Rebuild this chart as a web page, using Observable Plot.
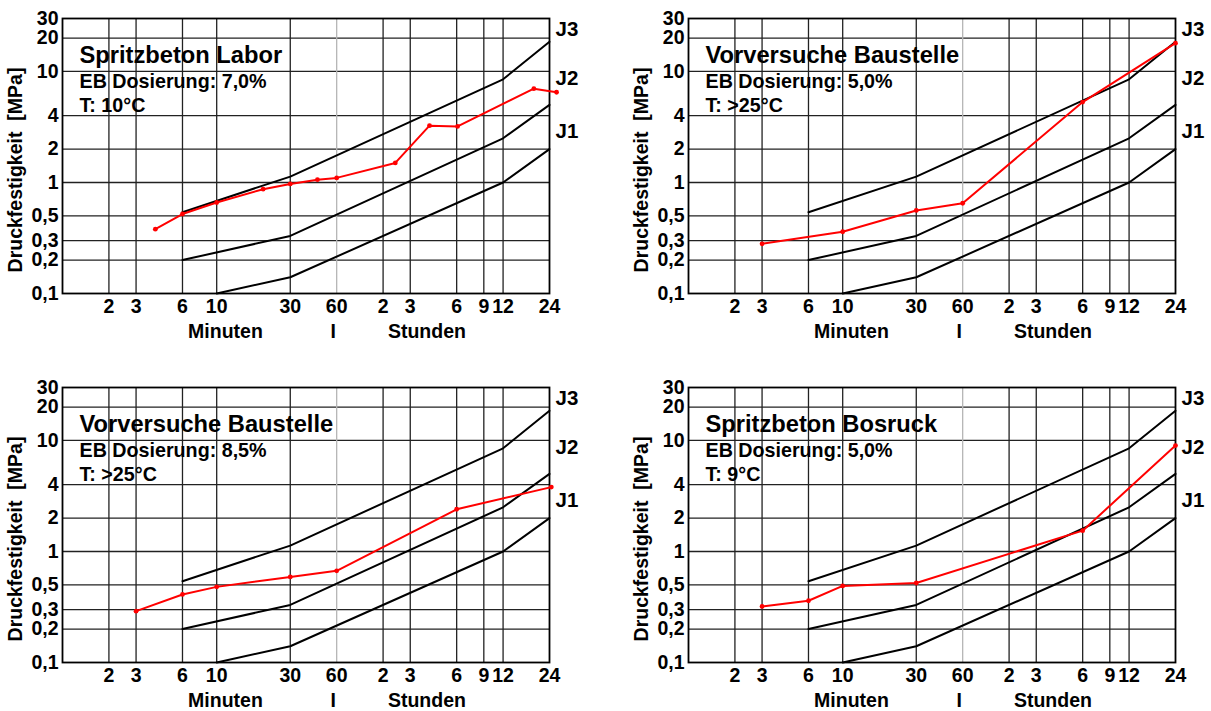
<!DOCTYPE html>
<html><head><meta charset="utf-8">
<script src="https://cdn.jsdelivr.net/npm/d3@7"></script>
<script src="https://cdn.jsdelivr.net/npm/@observablehq/plot@0.6"></script>
<style>
html,body{margin:0;padding:0;background:#fff;overflow:hidden;}
#wrap{position:relative;width:1211px;height:711px;overflow:hidden;}
.panel{position:absolute;width:590px;height:341px;}
.panel svg{max-width:none !important;}
</style></head><body><div id="wrap"></div>
<script>
// ticks
const xTicks = [2, 3, 6, 10, 30, 60, 120, 180, 360, 540, 720, 1440];
const xTickLabels = ["2", "3", "6", "10", "30", "60", "2", "3", "6", "9", "12", "24"];
const yTicks = [0.1, 0.2, 0.3, 0.5, 1, 2, 4, 10, 20, 30];
const yTickLabels = ["0,1", "0,2", "0,3", "0,5", "1", "2", "4", "10", "20", "30"];

// J curves (time in minutes, strength in MPa)
const j1Time = [10, 30, 720, 1440];
const j1Value = [0.1, 0.14, 1.0, 2.0];
const j2Time = [6, 30, 720, 1440];
const j2Value = [0.2, 0.33, 2.5, 5.0];
const j3Time = [6, 30, 720, 1440];
const j3Value = [0.54, 1.13, 8.5, 18.5];
const jNames = ["J1", "J2", "J3"];
const jLabelValue = [2.9, 8.7, 24];

// axis words
const axisWords = ["Minuten", "I", "Stunden"];
const axisWordTime = [11.4, 57, 231];
const yLabel = "Druckfestigkeit\u00a0 [MPa]";

// panels
const panelTitles = ["Spritzbeton Labor", "Vorversuche Baustelle", "Vorversuche Baustelle", "Spritzbeton Bosruck"];
const panelDosage = ["EB Dosierung: 7,0%", "EB Dosierung: 5,0%", "EB Dosierung: 8,5%", "EB Dosierung: 5,0%"];
const panelTemp = ["T: 10°C", "T: >25°C", "T: >25°C", "T: 9°C"];

const series1Time = [4, 6, 10, 20, 30, 45, 60, 144, 240, 365, 1140, 1600];
const series1Value = [0.38, 0.52, 0.66, 0.87, 0.97, 1.06, 1.1, 1.5, 3.25, 3.2, 7.0, 6.5];
const series2Time = [3, 10, 30, 60, 360, 1440];
const series2Value = [0.28, 0.36, 0.56, 0.65, 5.3, 18];
const series3Time = [3, 6, 10, 30, 60, 360, 1480];
const series3Value = [0.29, 0.41, 0.48, 0.59, 0.67, 2.4, 3.8];
const series4Time = [3, 6, 10, 30, 360, 1440];
const series4Value = [0.32, 0.36, 0.49, 0.52, 1.54, 9.0];
const seriesTime = [series1Time, series2Time, series3Time, series4Time];
const seriesValue = [series1Value, series2Value, series3Value, series4Value];

const jData = [
  ...j1Time.map((t, k) => ({name: "J1", t, v: j1Value[k]})),
  ...j2Time.map((t, k) => ({name: "J2", t, v: j2Value[k]})),
  ...j3Time.map((t, k) => ({name: "J3", t, v: j3Value[k]}))
];

const FONT = "'Liberation Sans', Arial, Helvetica, sans-serif";
const fmtX = d => xTickLabels[xTicks.indexOf(d)];
const fmtY = d => yTickLabels[yTicks.indexOf(d)];

function panel(i) {
  const series = seriesTime[i].map((t, k) => ({t, v: seriesValue[i][k]}));
  return Plot.plot({
    width: 590, height: 341,
    marginLeft: 62, marginRight: 41, marginTop: 18, marginBottom: 48,
    x: {type: "log", domain: [1, 1440], axis: null},
    y: {type: "log", domain: [0.1, 30], axis: null},
    style: {fontFamily: FONT, fontWeight: "bold", color: "#000", background: "#fff", overflow: "visible"},
    marks: [
      Plot.ruleY(yTicks.slice(1, -1), {stroke: "#222", strokeWidth: 1.3}),
      Plot.ruleX(xTicks.filter(d => d !== 60 && d !== 1440), {stroke: "#222", strokeWidth: 1.3}),
      Plot.ruleX(xTicks.filter(d => d === 60), {stroke: "#b5b5b5", strokeWidth: 1.3}),
      Plot.frame({stroke: "#000", strokeWidth: 1.8}),
      Plot.text(yTicks, {text: fmtY, y: d => d, frameAnchor: "left", dx: -4, textAnchor: "end", lineAnchor: "middle", fontSize: 19.5}),
      Plot.text(xTicks, {text: fmtX, x: d => d, frameAnchor: "bottom", dy: 6, textAnchor: "middle", lineAnchor: "top", fontSize: 19.5}),
      Plot.line(jData, {x: "t", y: "v", z: "name", stroke: "#000", strokeWidth: 2}),
      Plot.line(series, {x: "t", y: "v", stroke: "#ff0000", strokeWidth: 2}),
      Plot.dot(series, {x: "t", y: "v", r: 2.4, fill: "#ff0000"}),
      Plot.text(jNames, {text: d => d, y: jLabelValue, frameAnchor: "right", dx: 6, textAnchor: "start", lineAnchor: "middle", fontSize: 20.5}),
      Plot.text(axisWords, {text: d => d, x: axisWordTime, frameAnchor: "bottom", dy: 38, lineAnchor: "middle", fontSize: 19.5}),
      Plot.text([yLabel], {text: d => d, frameAnchor: "left", rotate: -90, dx: -47, dy: 14, textAnchor: "middle", lineAnchor: "middle", fontSize: 19.5}),
      Plot.text([panelTitles[i]], {text: d => d, frameAnchor: "top-left", dx: 17, dy: 28, textAnchor: "start", lineAnchor: "top", fontSize: 23.7}),
      Plot.text([panelDosage[i]], {text: d => d, frameAnchor: "top-left", dx: 17, dy: 55.5, textAnchor: "start", lineAnchor: "top", fontSize: 19.7}),
      Plot.text([panelTemp[i]], {text: d => d, frameAnchor: "top-left", dx: 17, dy: 79, textAnchor: "start", lineAnchor: "top", fontSize: 19.7})
    ]
  });
}

const wrap = document.getElementById("wrap");
const lefts = [0, 626, 0, 626];
const tops = [0, 0, 369, 369];
for (let i = 0; i < 4; i++) {
  const div = document.createElement("div");
  div.className = "panel";
  div.style.left = lefts[i] + "px";
  div.style.top = tops[i] + "px";
  div.appendChild(panel(i));
  wrap.appendChild(div);
}
</script></body></html>
